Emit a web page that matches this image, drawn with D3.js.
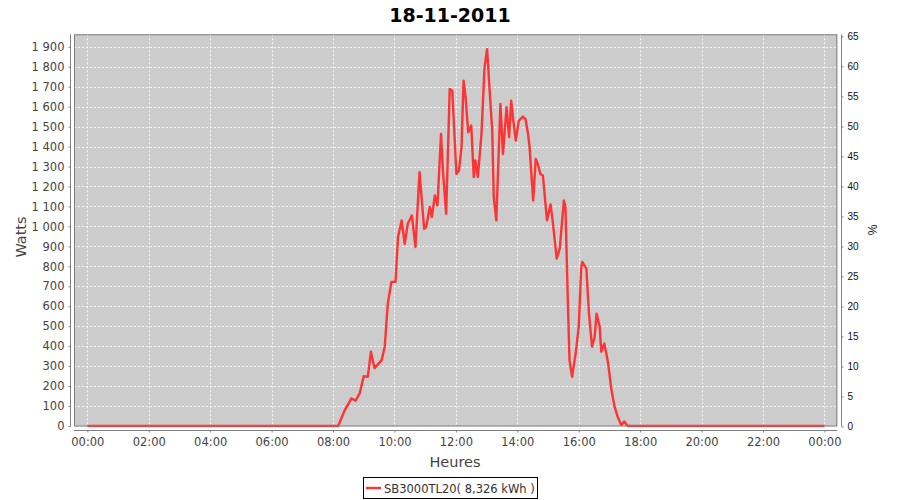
<!DOCTYPE html>
<html>
<head>
<meta charset="utf-8">
<script src="https://cdn.jsdelivr.net/npm/d3@7"></script>
<style>
  html, body { margin: 0; padding: 0; background: #fff; }
  svg { display: block; }
</style>
</head>
<body>
<svg id="chart" width="900" height="500"></svg>
<script>
// ---- data ----
const times = ["00:00","08:10","08:23","08:36","08:44","08:52","09:00","09:08","09:14","09:21","09:35","09:41","09:47","09:54",
  "10:02","10:07","10:14","10:20","10:26","10:34","10:41","10:49","10:58","11:02","11:09","11:13","11:19","11:24","11:31","11:35",
  "11:41","11:48","11:53","12:01","12:06","12:11","12:15","12:19","12:24","12:30","12:35","12:38","12:43","12:50","12:56","13:01",
  "13:06","13:11","13:14","13:19","13:27","13:32","13:39","13:44","13:48","13:53","13:57","14:03","14:11","14:16","14:21","14:24",
  "14:31","14:36","14:40","14:45","14:50","14:58","15:05","15:09","15:17","15:23","15:31","15:34","15:39","15:42","15:47","15:54",
  "16:00","16:05","16:07","16:15","16:20","16:26","16:31","16:35","16:41","16:44","16:50","16:57","17:04","17:10","17:16","17:23",
  "17:29","17:36","24:00"];
const watts = [0,0,80,138,127,163,250,247,372,290,330,397,613,722,
  722,947,1030,913,1013,1055,897,1272,988,997,1097,1047,1155,1105,1463,1267,
  1063,1688,1680,1263,1280,1397,1730,1647,1472,1505,1247,1330,1247,1463,1797,1888,
  1680,1480,1147,1030,1613,1363,1597,1447,1630,1513,1430,1530,1550,1538,1463,1397,
  1130,1338,1313,1263,1255,1030,1110,1030,838,890,1130,1100,600,330,247,363,
  497,797,822,788,563,397,447,563,497,372,413,322,180,97,47,5,
  22,0,0];
const xTickHours = [0,2,4,6,8,10,12,14,16,18,20,22,24];
const xTickLabels = ["00:00","02:00","04:00","06:00","08:00","10:00","12:00","14:00","16:00","18:00","20:00","22:00","00:00"];
const wattTicks = d3.range(0, 2000, 100);
const pctTicks = d3.range(0, 70, 5);
const title = "18-11-2011";
const seriesName = "SB3000TL20( 8,326 kWh )";

// ---- layout ----
const svg = d3.select("#chart");
const L = 74, R = 837.3, T = 34.3, B = 426.5;
const hours = times.map(t => { const [h, m] = t.split(":").map(Number); return h + m / 60; });
const data = hours.map((h, i) => ({ h, w: watts[i] }));

const x = d3.scaleLinear().domain([-0.435, 24.42]).range([L, R]);
const y = d3.scaleLinear().domain([0, 1962.5]).range([426, T]);
const yR = d3.scaleLinear().domain([0, 65.35]).range([426.5, T]);

// plot background
svg.append("rect").attr("x", L).attr("y", T).attr("width", R - L).attr("height", B - T)
  .attr("fill", "#cccccc");

// grid
const grid = svg.append("g").attr("stroke", "#ffffff").attr("stroke-opacity", 0.85)
  .attr("stroke-dasharray", "2,2").attr("stroke-width", 1);
wattTicks.forEach(v => {
  const yy = Math.round(y(v)) + 0.5;
  grid.append("line").attr("x1", L).attr("x2", R).attr("y1", yy).attr("y2", yy);
});
xTickHours.forEach(h => {
  const xx = Math.round(x(h)) + 0.5;
  grid.append("line").attr("x1", xx).attr("x2", xx).attr("y1", T).attr("y2", B);
});

// line
const line = d3.line().x(d => x(d.h)).y(d => y(d.w));
svg.append("path").datum(data).attr("d", line).attr("fill", "none")
  .attr("stroke", "#ff3333").attr("stroke-width", 2.4).attr("stroke-linejoin", "round");

// plot border
svg.append("rect").attr("x", L + 0.5).attr("y", T + 0.5).attr("width", R - L - 1).attr("height", B - T - 1)
  .attr("fill", "none").attr("stroke", "#808080").attr("stroke-width", 1);

// left axis
const leftAxis = d3.axisLeft(y).tickValues(wattTicks).tickSize(2).tickPadding(4)
  .tickFormat(v => d3.format(",")(v).replace(/,/g, " "));
const gL = svg.append("g").attr("transform", "translate(70.5,0)").call(leftAxis);
gL.select(".domain").attr("stroke", "#808080").attr("d", `M0,${T}V${B}`);
gL.selectAll(".tick line").attr("stroke", "#808080");
gL.selectAll("text").attr("fill", "#444").style("font-family", "DejaVu Sans, sans-serif").style("font-size", "11.5px");

// bottom axis
const bottomAxis = d3.axisBottom(x).tickValues(xTickHours).tickSize(2).tickPadding(5)
  .tickFormat((d, i) => xTickLabels[i]);
const gB = svg.append("g").attr("transform", "translate(0,430.5)").call(bottomAxis);
gB.select(".domain").attr("stroke", "#808080").attr("d", `M${L},0H${R}`);
gB.selectAll(".tick line").attr("stroke", "#808080");
gB.selectAll("text").attr("fill", "#444").style("font-family", "DejaVu Sans, sans-serif").style("font-size", "11.5px");

// right axis
const rightAxis = d3.axisRight(yR).tickValues(pctTicks).tickSize(2).tickPadding(4);
const gR = svg.append("g").attr("transform", "translate(841.5,0)").call(rightAxis);
gR.select(".domain").attr("stroke", "#808080").attr("d", `M0,${T}V${B}`);
gR.selectAll(".tick line").attr("stroke", "#808080");
gR.selectAll("text").attr("fill", "#111").style("font-family", "Liberation Sans, Arial, sans-serif").style("font-size", "10px");

// title
svg.append("text").attr("x", 450).attr("y", 22).attr("text-anchor", "middle")
  .style("font-family", "DejaVu Sans, sans-serif").style("font-weight", "bold").style("font-size", "19px")
  .attr("fill", "#000").text(title);

// axis labels
svg.append("text").attr("transform", "translate(26,237) rotate(-90)").attr("text-anchor", "middle")
  .style("font-family", "DejaVu Sans, sans-serif").style("font-size", "14.5px").attr("fill", "#444").text("Watts");
svg.append("text").attr("transform", "translate(877,230) rotate(-90)").attr("text-anchor", "middle")
  .style("font-family", "Liberation Sans, Arial, sans-serif").style("font-size", "12px").attr("fill", "#111").text("%");
svg.append("text").attr("x", 455).attr("y", 467).attr("text-anchor", "middle")
  .style("font-family", "DejaVu Sans, sans-serif").style("font-size", "14.5px").attr("fill", "#444").text("Heures");

// legend
const lg = svg.append("g");
lg.append("rect").attr("x", 363.5).attr("y", 477.5).attr("width", 174).attr("height", 21)
  .attr("fill", "#fff").attr("stroke", "#000").attr("stroke-width", 1);
lg.append("line").attr("x1", 366).attr("x2", 381).attr("y1", 488).attr("y2", 488)
  .attr("stroke", "#ff3333").attr("stroke-width", 2.4);
lg.append("text").attr("x", 384).attr("y", 492.5)
  .style("font-family", "DejaVu Sans, sans-serif").style("font-size", "11.5px").attr("fill", "#333").text(seriesName);
</script>
</body>
</html>
